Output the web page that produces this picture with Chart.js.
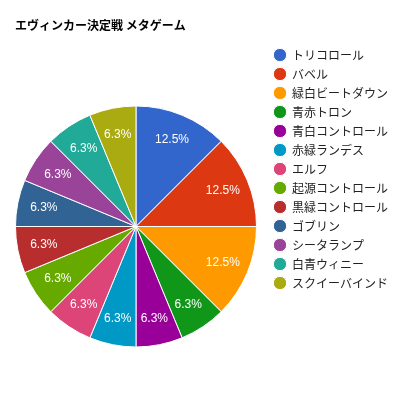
<!DOCTYPE html>
<html>
<head>
<meta charset="utf-8">
<script src="https://cdn.jsdelivr.net/npm/chart.js@4.4.1/dist/chart.umd.min.js"></script>
<style>
  html, body { margin: 0; padding: 0; background: #fff; overflow: hidden; }
  #wrap { width: 403px; height: 403px; }
</style>
</head>
<body>
<div id="wrap"><canvas id="meta-chart"></canvas></div>
<script>
const chartTitle = 'エヴィンカー決定戦 メタゲーム';
const decks = [
  'トリコロール', 'バベル', '緑白ビートダウン', '青赤トロン', '青白コントロール',
  '赤緑ランデス', 'エルフ', '起源コントロール', '黒緑コントロール', 'ゴブリン',
  'シータランプ', '白青ウィニー', 'スクイーバインド'
];
const counts = [2, 2, 2, 1, 1, 1, 1, 1, 1, 1, 1, 1, 1];
const colors = [
  '#3366cc', '#dc3912', '#ff9900', '#109618', '#990099', '#0099c6', '#dd4477',
  '#66aa00', '#b82e2e', '#316395', '#994499', '#22aa99', '#aaaa11'
];

const jpFont = '"Noto Sans CJK JP", "Liberation Sans", sans-serif';

// percentage text inside each slice
const sliceLabels = {
  id: 'sliceLabels',
  afterDatasetsDraw(chart) {
    const { ctx } = chart;
    const meta = chart.getDatasetMeta(0);
    const total = counts.reduce((a, b) => a + b, 0);
    ctx.save();
    ctx.fillStyle = '#ffffff';
    ctx.font = '12px "Liberation Sans", Arial, sans-serif';
    ctx.textAlign = 'center';
    ctx.textBaseline = 'middle';
    meta.data.forEach((arc, i) => {
      const { x, y, startAngle, endAngle, outerRadius } =
        arc.getProps(['x', 'y', 'startAngle', 'endAngle', 'outerRadius'], true);
      const mid = (startAngle + endAngle) / 2;
      const r = outerRadius * 0.78;
      const text = (counts[i] / total * 100).toFixed(1) + '%';
      ctx.fillText(text, x + Math.cos(mid) * r, y + Math.sin(mid) * r);
    });
    ctx.restore();
  }
};

// legend sits higher than the pie area, so move its box after layout
const legendPlacement = {
  id: 'legendPlacement',
  afterLayout(chart) {
    const legend = chart.legend;
    const dx = 267 - legend.left;
    const dy = 42 - legend.top;
    legend.left += dx;
    legend.right += dx;
    legend.top += dy;
    legend.bottom += dy;
  }
};

new Chart(document.getElementById('meta-chart'), {
  type: 'pie',
  data: {
    labels: decks,
    datasets: [{
      data: counts,
      backgroundColor: colors,
      borderColor: '#ffffff',
      borderWidth: 1
    }]
  },
  options: {
    responsive: true,
    maintainAspectRatio: false,
    animation: false,
    layout: {
      padding: { left: 15, right: 15, top: 0, bottom: 0 }
    },
    plugins: {
      title: {
        display: true,
        text: chartTitle,
        align: 'start',
        color: '#000000',
        font: { family: jpFont, size: 12, weight: 'bold' },
        padding: { top: 18, bottom: 17.6 }
      },
      legend: {
        position: 'right',
        align: 'start',
        labels: {
          usePointStyle: true,
          pointStyle: 'circle',
          boxHeight: 9.4,
          padding: 7,
          color: '#222222',
          font: { family: jpFont, size: 12 }
        }
      },
      tooltip: { enabled: false }
    }
  },
  plugins: [sliceLabels, legendPlacement]
});
</script>
</body>
</html>
